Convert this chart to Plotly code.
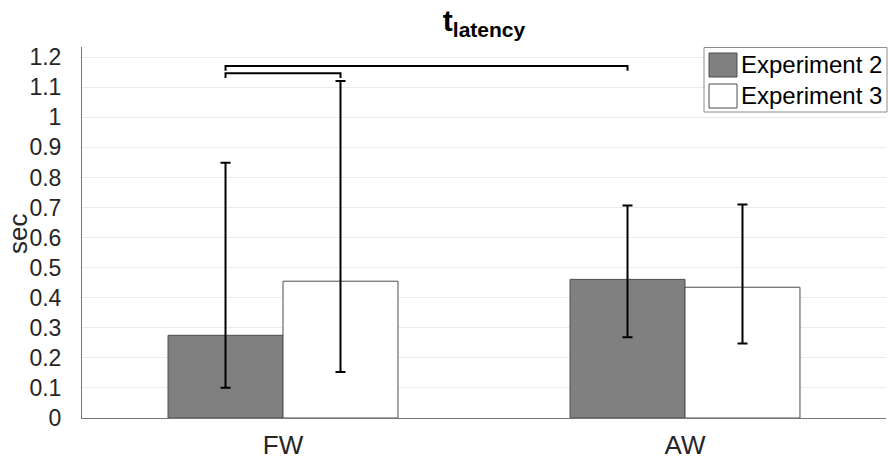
import plotly.graph_objects as go

categories = ["FW", "AW"]
series_names = ["Experiment 2", "Experiment 3"]
exp2_mean = [0.275, 0.461]
exp2_err_low = [0.101, 0.269]
exp2_err_high = [0.849, 0.707]
exp3_mean = [0.455, 0.435]
exp3_err_low = [0.153, 0.248]
exp3_err_high = [1.121, 0.710]
y_ticks = [0, 0.1, 0.2, 0.3, 0.4, 0.5, 0.6, 0.7, 0.8, 0.9, 1, 1.1, 1.2]
y_tick_labels = ["0", "0.1", "0.2", "0.3", "0.4", "0.5", "0.6", "0.7", "0.8", "0.9", "1", "1.1", "1.2"]
# significance brackets: (category index, series index) pairs and height
bracket_pairs = [((0, 0), (0, 1), 1.147), ((0, 0), (1, 0), 1.171)]

colors = ["#808080", "#ffffff"]
bargap = 0.428
bar_w = (1 - bargap) / 2
FONT = "Liberation Sans, Arial"

fig = go.Figure()
xs = list(range(len(categories)))
for name, mean, lo, hi, col in [
    (series_names[0], exp2_mean, exp2_err_low, exp2_err_high, colors[0]),
    (series_names[1], exp3_mean, exp3_err_low, exp3_err_high, colors[1]),
]:
    fig.add_trace(go.Bar(
        x=xs, y=mean, name=name,
        marker=dict(color=col, line=dict(color="#4d4d4d", width=1)),
        error_y=dict(type="data", symmetric=False,
                     array=[h - m for h, m in zip(hi, mean)],
                     arrayminus=[m - l for m, l in zip(mean, lo)],
                     color="black", thickness=2, width=5),
        showlegend=False,
    ))

shapes = []
tick_drop = 0.016
for (a, b, h) in bracket_pairs:
    xa = a[0] + (a[1] - 0.5) * bar_w
    xb = b[0] + (b[1] - 0.5) * bar_w
    shapes.append(dict(type="path", xref="x", yref="y",
                       path=f"M {xa},{h - tick_drop} L {xa},{h} L {xb},{h} L {xb},{h - tick_drop}",
                       line=dict(color="black", width=2)))

# manual legend (paper coordinates)
W, H = 888, 460
ml, mr, mt, mb = 82, 2, 47, 42
pw, ph = W - ml - mr, H - mt - mb
def px(x):
    return (x - ml) / pw
def py(y):
    return 1 - (y - mt) / ph

shapes.append(dict(type="rect", xref="paper", yref="paper",
                   x0=px(704), x1=px(887), y0=py(112), y1=py(47.5),
                   line=dict(color="#8c8c8c", width=1), fillcolor="white", layer="above"))
annotations = []
for i, (name, col) in enumerate(zip(series_names, colors)):
    yc = 65 + i * 31
    shapes.append(dict(type="rect", xref="paper", yref="paper",
                       x0=px(709), x1=px(737), y0=py(yc + 12), y1=py(yc - 12),
                       line=dict(color="#4d4d4d", width=1), fillcolor=col, layer="above"))
    annotations.append(dict(xref="paper", yref="paper", x=px(739), y=py(yc),
                            xanchor="left", yanchor="middle", text=name, showarrow=False,
                            font=dict(family=FONT, size=24, color="black")))

annotations.append(dict(xref="paper", yref="paper", x=px(18), y=py(234),
                        xanchor="center", yanchor="middle", text="sec", textangle=-90,
                        showarrow=False,
                        font=dict(family=FONT, size=26, color="#262626")))

fig.update_layout(
    width=W, height=H,
    margin=dict(l=ml, r=mr, t=mt, b=mb, autoexpand=False),
    plot_bgcolor="white", paper_bgcolor="white",
    barmode="group", bargap=bargap, bargroupgap=0,
    title=dict(text="<b>t<sub>latency</sub></b>", x=px(484), xref="paper", xanchor="center",
               y=1 - 20 / H, yref="container", yanchor="middle",
               font=dict(family=FONT, size=30, color="black")),
    xaxis=dict(range=[-0.5, 1.5], tickvals=xs, ticktext=categories,
               showline=True, linecolor="#777777", linewidth=1, showgrid=False,
               ticks="", ticklabelstandoff=4, zeroline=False,
               tickfont=dict(family=FONT, size=26, color="#262626")),
    yaxis=dict(range=[0, 1.234], tickvals=y_ticks, ticktext=y_tick_labels,
               showline=True, linecolor="#777777", linewidth=1,
               showgrid=True, gridcolor="#ebebeb", gridwidth=1,
               ticks="", ticklabelstandoff=15, zeroline=False,
               tickfont=dict(family=FONT, size=23, color="#262626")),
    shapes=shapes, annotations=annotations,
)

fig.write_html("out.html", config={"displayModeBar": False},
               post_script="document.body.style.margin='0';document.body.style.overflow='hidden';")
